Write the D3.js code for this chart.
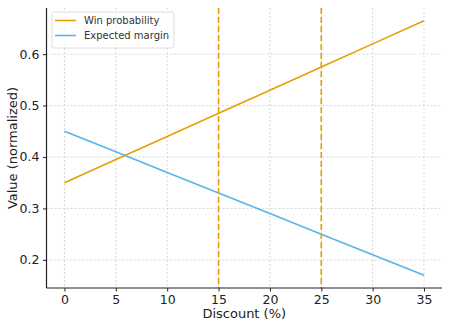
<!DOCTYPE html>
<html><head><meta charset="utf-8">
<script src="https://cdn.jsdelivr.net/npm/d3@7"></script>
<style>body{margin:0;background:#fff}svg{display:block}text{font-family:"DejaVu Sans",sans-serif}</style>
</head><body><svg id="c" width="450" height="327"></svg>
<script>
const discounts = [0, 5, 10, 15, 20, 25, 30, 35];
const winProbability = [0.35, 0.395, 0.44, 0.485, 0.53, 0.575, 0.62, 0.665];
const expectedMargin = [0.45, 0.41, 0.37, 0.33, 0.29, 0.25, 0.21, 0.17];
const markers = [15, 25];
const xTicks = [0, 5, 10, 15, 20, 25, 30, 35];
const yTicks = [0.2, 0.3, 0.4, 0.5, 0.6];
const seriesNames = ["Win probability", "Expected margin"];
const colors = ["#E69F00", "#56B4E9"];

const svg = d3.select("#c");
const L = 46.5, R = 442, T = 8, B = 288;
const x = d3.scaleLinear().domain([-1.75, 36.75]).range([L, R]);
const y = d3.scaleLinear().domain([0.14525, 0.68975]).range([B, T]);

// grid
const g = svg.append("g");
g.selectAll(".gx").data(xTicks).enter().append("line")
  .attr("x1", d => x(d)).attr("x2", d => x(d)).attr("y1", T).attr("y2", B)
  .attr("stroke", "#cccccc").attr("stroke-width", 0.8).attr("stroke-dasharray", "2,2");
g.selectAll(".gy").data(yTicks).enter().append("line")
  .attr("x1", L).attr("x2", R).attr("y1", d => y(d)).attr("y2", d => y(d))
  .attr("stroke", "#cccccc").attr("stroke-width", 0.8).attr("stroke-dasharray", "2,2");

// series
const line = d3.line().x((d, i) => x(discounts[i])).y(d => y(d));
[winProbability, expectedMargin].forEach((s, k) => {
  svg.append("path").datum(s).attr("d", line).attr("fill", "none")
    .attr("stroke", colors[k]).attr("stroke-width", 1.6);
});

// markers
svg.selectAll(".mk").data(markers).enter().append("line")
  .attr("x1", d => x(d)).attr("x2", d => x(d)).attr("y1", T).attr("y2", B)
  .attr("stroke", "#E69F00").attr("stroke-width", 1.6).attr("stroke-dasharray", "6,3");

// axes
const xa = svg.append("g").attr("transform", `translate(0,${B})`)
  .call(d3.axisBottom(x).tickValues(xTicks).tickFormat(d3.format("d")).tickSize(3.5).tickPadding(3.5));
const ya = svg.append("g").attr("transform", `translate(${L},0)`)
  .call(d3.axisLeft(y).tickValues(yTicks).tickFormat(d3.format(".1f")).tickSize(3.5).tickPadding(3.5));
[xa, ya].forEach(a => {
  a.select(".domain").attr("stroke", "#222").attr("stroke-width", 1.2);
  a.selectAll(".tick line").attr("stroke", "#222");
  a.selectAll("text").attr("font-size", 12.5).attr("fill", "#222").attr("font-family", "DejaVu Sans");
});
xa.select(".domain").attr("d", `M${L},0H${R}`);
ya.select(".domain").attr("d", `M0,${B}V${T}`);

svg.append("text").attr("x", (L + R) / 2).attr("y", 318).attr("text-anchor", "middle")
  .attr("font-size", 13).attr("fill", "#222").text("Discount (%)");
svg.append("text").attr("transform", `translate(17,${(T + B) / 2}) rotate(-90)`).attr("text-anchor", "middle")
  .attr("font-size", 13).attr("fill", "#222").text("Value (normalized)");

// legend
const lg = svg.append("g").attr("transform", "translate(52,12)");
lg.append("rect").attr("width", 122).attr("height", 36).attr("rx", 2)
  .attr("fill", "#fff").attr("fill-opacity", 0.8).attr("stroke", "#d5d5d5").attr("stroke-width", 0.8);
seriesNames.forEach((n, k) => {
  lg.append("line").attr("x1", 3).attr("x2", 24).attr("y1", 8.5 + k * 15).attr("y2", 8.5 + k * 15)
    .attr("stroke", colors[k]).attr("stroke-width", 1.6);
  lg.append("text").attr("x", 32).attr("y", 12 + k * 15).attr("font-size", 10).attr("fill", "#333").text(n);
});
</script></body></html>
